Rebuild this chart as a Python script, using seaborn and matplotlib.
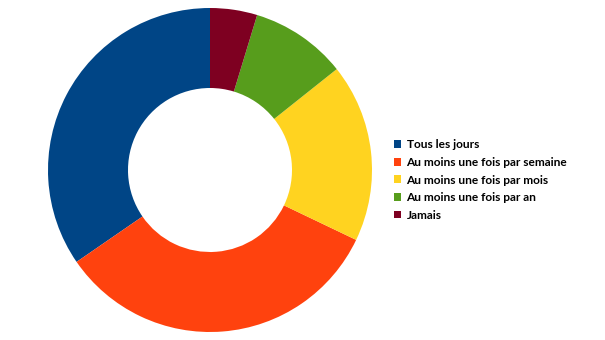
import matplotlib
matplotlib.use("Agg")
import matplotlib.pyplot as plt
import seaborn as sns
from matplotlib.patches import Patch

categories = ["Tous les jours", "Au moins une fois par semaine", "Au moins une fois par mois",
              "Au moins une fois par an", "Jamais"]
values = [34.6, 33.3, 17.8, 9.6, 4.7]
colors = ["#004586", "#ff420e", "#ffd320", "#579d1c", "#7e0021"]

sns.set_theme(style="white")
plt.rcParams['font.family'] = ['Lato', 'DejaVu Sans']

fig = plt.figure(figsize=(6.05, 3.4), dpi=100)
W, H = 605, 340
cx, cy, r = 210, 170, 162
ax = fig.add_axes([(cx - r) / W, (H - cy - r) / H, 2 * r / W, 2 * r / H])
ax.pie(values, colors=colors, startangle=90, counterclock=True,
       wedgeprops=dict(width=80 / 162, linewidth=0), radius=1)
ax.set_xlim(-1, 1)
ax.set_ylim(-1, 1)
ax.set_aspect("equal")
ax.axis("off")

handles = [Patch(facecolor=c, edgecolor="none") for c in colors]
leg = fig.legend(handles, categories, loc="center left",
                 bbox_to_anchor=(394 / W, 1 - 180 / H), frameon=False,
                 prop=dict(weight="bold", size=8.6), labelcolor="black",
                 handlelength=0.6, handleheight=0.6, handletextpad=0.45,
                 labelspacing=0.55, borderpad=0, borderaxespad=0)
fig.savefig("out.png", dpi=100)
